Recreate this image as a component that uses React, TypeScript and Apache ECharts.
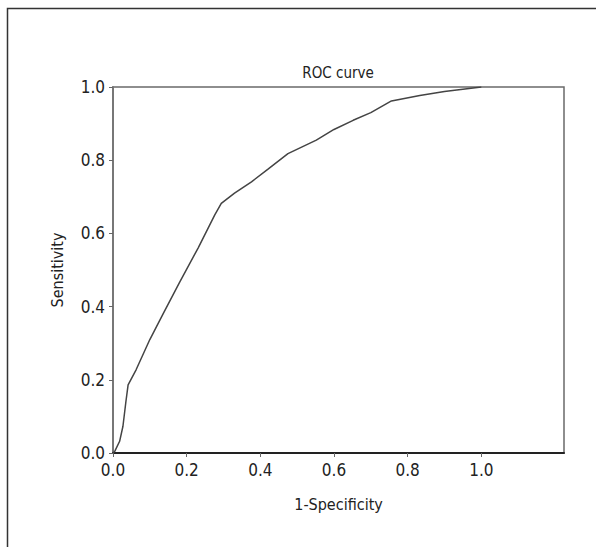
import React, { useEffect, useRef } from "react";
import * as echarts from "echarts";

const fprValues = [0, 0.005, 0.018, 0.027, 0.035, 0.041, 0.063, 0.1, 0.136, 0.18, 0.231, 0.276, 0.294, 0.33, 0.376, 0.42, 0.475, 0.552, 0.6, 0.652, 0.7, 0.756, 0.833, 0.9, 1.0];
const tprValues = [0, 0.005, 0.032, 0.073, 0.14, 0.186, 0.228, 0.31, 0.38, 0.465, 0.56, 0.65, 0.682, 0.71, 0.741, 0.775, 0.818, 0.855, 0.884, 0.909, 0.93, 0.962, 0.977, 0.988, 1.0];
const xTicks = [0, 0.2, 0.4, 0.6, 0.8, 1.0];
const titleText = "ROC curve";
const xName = "1-Specificity";
const yName = "Sensitivity";

const FONT = "'Liberation Sans Narrow', 'DejaVu Sans Condensed', 'Roboto', sans-serif";

export default function App() {
  const ref = useRef<HTMLDivElement>(null);
  useEffect(() => {
    document.body.style.margin = "0";
    const chart = echarts.init(ref.current!, null, { renderer: "svg" });
    const data = fprValues.map((x, i) => [x, tprValues[i]]);
    chart.setOption({
      animation: false,
      backgroundColor: "#fff",
      grid: {
        left: 113,
        top: 87,
        right: 32,
        bottom: 94,
        show: true,
        borderColor: "#6a6a6a",
        borderWidth: 1.5,
        containLabel: false,
      },
      graphic: [
        {
          type: "rect",
          shape: { x: 7.5, y: 8.5, width: 700, height: 700 },
          style: { fill: "none", stroke: "#333", lineWidth: 1.5 },
          silent: true,
        },
        {
          type: "text",
          x: 338,
          y: 73,
          style: {
            text: titleText,
            fontFamily: FONT,
            fontSize: 15,
            fill: "#222",
            textAlign: "center",
            textVerticalAlign: "middle",
          },
        },
      ],
      xAxis: {
        type: "value",
        min: 0,
        max: 1.2245,
        name: xName,
        nameLocation: "middle",
        nameGap: 43,
        nameTextStyle: { fontFamily: FONT, fontSize: 16, color: "#222" },
        axisLine: { show: true, lineStyle: { color: "#222", width: 2 } },
        axisTick: { show: true, length: 4, customValues: xTicks, lineStyle: { color: "#666" } },
        axisLabel: {
          customValues: xTicks,
          formatter: (v: number) => v.toFixed(1),
          fontFamily: FONT,
          fontSize: 17,
          color: "#222",
          margin: 8,
        },
        splitLine: { show: false },
      },
      yAxis: {
        type: "value",
        min: 0,
        max: 1,
        interval: 0.2,
        name: yName,
        nameLocation: "middle",
        nameGap: 48,
        nameTextStyle: { fontFamily: FONT, fontSize: 16, color: "#222" },
        axisLine: { show: true, lineStyle: { color: "#777", width: 2 } },
        axisTick: { show: true, length: 4, lineStyle: { color: "#666" } },
        axisLabel: {
          formatter: (v: number) => v.toFixed(1),
          fontFamily: FONT,
          fontSize: 17,
          color: "#222",
          margin: 8,
        },
        splitLine: { show: false },
      },
      series: [
        {
          type: "line",
          data,
          showSymbol: false,
          symbol: "none",
          lineStyle: { color: "#444", width: 1.5 },
          smooth: false,
        },
      ],
    });
    return () => chart.dispose();
  }, []);
  return <div ref={ref} style={{ width: 596, height: 547 }} />;
}
